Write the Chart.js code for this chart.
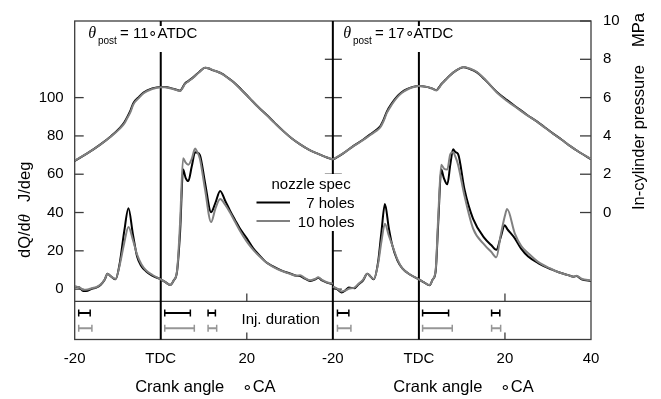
<!DOCTYPE html>
<html><head><meta charset="utf-8">
<script src="https://cdn.jsdelivr.net/npm/chart.js@4/dist/chart.umd.min.js"></script>
<style>html,body{margin:0;padding:0;background:#fff;overflow:hidden}</style>
</head><body>
<canvas id="c" width="661" height="399" style="display:block;width:661px;height:399px"></canvas>
<script>
// ---------- axis ticks ----------
const crankTicks = [-20, 0, 20, 40, 60, 80, 100];
const crankTickLabels = ['-20', 'TDC', '20', '-20', 'TDC', '20', '40'];
const hrrTicks = [0, 20, 40, 60, 80, 100];
const pressureTicks = [0, 2, 4, 6, 8, 10];
const panelOffsets = [0, 60];
const panelTitleValues = ['11', '17'];
const seriesNames = ['7 holes', '10 holes'];

// ---------- panel 1 (theta_post = 11 ATDC) : heat release rate ----------
const crank1 = [-20,-19,-18,-17,-16,-15,-14,-13,-12.4,-11.5,-10.5,-9.5,-8.5,-7.5,-6.5,-5.5,-4.5,-3.5,-2,0,1,2.2,3,3.8,4.5,5.2,5.8,6.4,7.2,8,8.4,9.1,10.3,11.7,12.7,13.8,15,16.1,17.3,18.4,20,21.5,23,24.5,26,28,30,31.5,32.4,33.5,34.7,36,36.6,37.5,38.6,40];
const hrr1_7  = [1.2,1.0,-1.0,-0.8,0.2,0.8,2.2,5,8,6.5,5.1,14,30,42.2,29,17,12,9.5,7,5.1,3.8,2.2,4.5,9.4,30,62.4,58,56.4,64,71.5,71.3,70,55.5,40.2,45,51.3,46,41,36,31.6,26.5,21.3,17.5,14,12,9.8,8.2,7,6.8,5.5,4.3,5.2,6,4.5,3.4,2.6];
const hrr1_10 = [1.3,1.0,-0.3,-0.2,0.5,1.0,2.4,5.2,8,6.5,5.3,13,24,32.5,26,18,13,10,7.5,5.1,3.8,2.2,4.5,9.8,35,68.4,66,65,68,73.4,72,68,52,35,42,47,44,40,35,30.5,24.8,20.5,17,14,11.8,9.6,8,7,7.2,5.8,4.6,5.5,6.2,4.8,3.6,2.8];

// ---------- panel 2 (theta_post = 17 ATDC) : heat release rate ----------
const crank2 = [-20,-19,-18,-17,-16.3,-15,-14,-13,-12,-11.2,-10.5,-9.5,-8.7,-7.9,-7,-6.2,-5,-3.9,-2,0,1.2,2.5,3.2,3.9,4.5,5.2,5.8,6.6,7.3,7.95,8.5,9.1,10.6,12.6,15.3,16.8,18,19,19.96,20.5,22.3,23.8,25.4,27.7,30.8,32.5,34.7,36,36.6,37.8,40];
const hrr2_7  = [1.2,0,-1.7,-0.5,0.8,0.5,2.6,4.5,8,6.5,5.1,14,30,44.4,32,23,15,11,7.5,5.1,3.5,2,5,9.4,35,62.4,58,54.7,65,73,71.5,70.6,52,36.7,26.5,23,20.5,27,33.3,31.5,26.5,21,17,13.6,10.3,8.8,7.3,6.5,6.8,5.1,4.3];
const hrr2_10 = [1.3,0.3,-1.2,-0.6,0.2,0.8,2.8,4.8,8,6.5,5.3,13,25,34.2,28,23,15.5,11,7.5,5.1,3.5,2.1,5,10,38,65,63,62.4,70.5,71.5,69,65,48.7,31.6,23,19.5,16.6,28,38,41.8,29,22.5,18.8,14.2,10.5,8.8,7.3,6.5,7.0,5.4,4.5];

// ---------- in-cylinder pressure (MPa) ----------
const pCrank1 = [-20,-17,-14,-11.5,-9.5,-8.5,-7.9,-7,-6.4,-5,-4,-2,0,1,2.2,3.5,4.5,5,5.6,6.5,7.6,9,10.3,11.2,12.2,13.2,14.2,15.5,16.9,18.8,20.7,22.6,24.6,26.5,28.5,30.4,32.4,34.3,36.2,38.1,40];
const p1_7  = [2.7,3.1,3.56,4.0,4.42,4.7,4.94,5.35,5.7,6.05,6.27,6.48,6.56,6.55,6.5,6.42,6.36,6.5,6.73,6.88,7.07,7.35,7.56,7.52,7.42,7.35,7.25,7.05,6.82,6.4,5.96,5.52,5.1,4.68,4.25,3.88,3.56,3.3,3.1,2.92,2.76];
const p1_10 = [2.71,3.1,3.55,3.98,4.38,4.64,4.88,5.27,5.63,6.0,6.23,6.45,6.54,6.54,6.49,6.41,6.35,6.47,6.7,6.86,7.05,7.34,7.56,7.53,7.43,7.35,7.24,7.04,6.8,6.38,5.95,5.51,5.09,4.67,4.24,3.88,3.56,3.3,3.1,2.92,2.77];

const pCrank2 = [-20,-17.5,-15.2,-13,-11.3,-10,-9,-8.2,-7.45,-6.3,-5.1,-4,-2.8,-1.4,0,1.8,3,4.1,4.7,5.3,6.2,7.2,8.7,10.3,11.8,13.4,15.5,18.1,20.4,22.7,25,27.4,29.3,31.2,33.2,35.1,37.5,40];
const p2_7  = [2.76,3.1,3.48,3.8,4.08,4.3,4.5,4.85,5.27,5.7,6.05,6.28,6.44,6.56,6.61,6.56,6.48,6.39,6.55,6.73,6.93,7.16,7.42,7.59,7.5,7.33,6.9,6.3,5.88,5.5,5.12,4.76,4.44,4.12,3.8,3.48,3.12,2.79];
const p2_10 = [2.77,3.1,3.47,3.78,4.05,4.25,4.44,4.78,5.2,5.64,6.0,6.24,6.41,6.54,6.6,6.56,6.48,6.38,6.52,6.71,6.92,7.15,7.42,7.6,7.52,7.35,6.92,6.27,5.84,5.47,5.1,4.75,4.43,4.11,3.8,3.48,3.12,2.8];

// ---------- injection duration [start, end] (deg CA) ----------
const inj1_7  = [[-19.07,-16.4],[0.93,6.88],[11.0,12.7]];
const inj1_10 = [[-19.07,-16.0],[0.93,7.8],[11.0,13.0]];
const inj2_7  = [[-18.93,-16.28],[0.86,6.9],[16.9,18.8]];
const inj2_10 = [[-18.93,-15.8],[0.86,7.75],[16.9,19.0]];

// ---------- styling ----------
const FONT = '"Liberation Sans", Arial, Helvetica, sans-serif';
const BLACK = '#000000';
const GRAY = 'rgb(128,128,128)';
const INJ_GRAY = 'rgb(150,150,150)';
const FRAME = '#3c3c3c';
const SEP_LEVEL = -6.4;       // separator between the two strips (J/deg units)
const INJ_LEVEL_7 = -12.5;
const INJ_LEVEL_10 = -20.4;
const Y_MIN = -26.3, Y_MAX = 140;

function pts(xs, ys, off) { return xs.map((x, i) => ({x: x + off, y: ys[i]})); }
function injPts(bars, off, level) {
  const out = [];
  bars.forEach(b => { out.push({x: b[0] + off, y: level}); out.push({x: b[1] + off, y: level}); out.push({x: b[1] + off + 0.01, y: null}); });
  return out;
}
function curve(data, color, axis, order) {
  return {data, borderColor: color, borderWidth: 2, pointRadius: 0, tension: 0.25, yAxisID: axis, order, fill: false, cubicInterpolationMode: 'monotone'};
}
function injSet(data, color) {
  return {data, borderColor: color, backgroundColor: color, borderWidth: 2, pointStyle: 'line', pointRotation: 90,
          pointRadius: 3.5, pointBorderWidth: 1.5, pointBorderColor: color, spanGaps: false, yAxisID: 'y', tension: 0, order: 5};
}

const datasets = [
  curve(pts(crank1, hrr1_7, panelOffsets[0]), BLACK, 'y', 2),
  curve(pts(crank1, hrr1_10, panelOffsets[0]), GRAY, 'y', 1),
  curve(pts(crank2, hrr2_7, panelOffsets[1]), BLACK, 'y', 2),
  curve(pts(crank2, hrr2_10, panelOffsets[1]), GRAY, 'y', 1),
  curve(pts(pCrank1, p1_7, panelOffsets[0]), BLACK, 'yP', 2),
  curve(pts(pCrank1, p1_10, panelOffsets[0]), GRAY, 'yP', 1),
  curve(pts(pCrank2, p2_7, panelOffsets[1]), BLACK, 'yP', 2),
  curve(pts(pCrank2, p2_10, panelOffsets[1]), GRAY, 'yP', 1),
  injSet(injPts(inj1_7, panelOffsets[0], INJ_LEVEL_7), BLACK),
  injSet(injPts(inj1_10, panelOffsets[0], INJ_LEVEL_10), INJ_GRAY),
  injSet(injPts(inj2_7, panelOffsets[1], INJ_LEVEL_7), BLACK),
  injSet(injPts(inj2_10, panelOffsets[1], INJ_LEVEL_10), INJ_GRAY)
];

function seg(ctx, x1, y1, x2, y2) { ctx.beginPath(); ctx.moveTo(x1, y1); ctx.lineTo(x2, y2); ctx.stroke(); }

const decor = {
  id: 'decor',
  beforeDatasetsDraw(chart) {
    const {ctx, chartArea: a, scales} = chart;
    const x = scales.x, y = scales.y, yP = scales.yP;
    ctx.save();
    ctx.strokeStyle = FRAME; ctx.lineWidth = 1.3;
    ctx.strokeRect(a.left, a.top, a.right - a.left, a.bottom - a.top);
    const ySep = y.getPixelForValue(SEP_LEVEL);
    seg(ctx, a.left, ySep, a.right, ySep);
    // left axis ticks (inward)
    hrrTicks.forEach(v => seg(ctx, a.left, y.getPixelForValue(v), a.left + 9, y.getPixelForValue(v)));
    // right axis ticks (inward)
    pressureTicks.forEach(v => seg(ctx, a.right - 11, yP.getPixelForValue(v), a.right, yP.getPixelForValue(v)));
    // divider ticks
    const xd = x.getPixelForValue(40);
    pressureTicks.filter(v => v > 0 && v < 10).forEach(v => seg(ctx, xd - 8, yP.getPixelForValue(v), xd + 9, yP.getPixelForValue(v)));
    hrrTicks.filter(v => v < 40).forEach(v => seg(ctx, xd, y.getPixelForValue(v), xd + 9, y.getPixelForValue(v)));
    // crank ticks at 20 deg on separator and bottom
    [20, 80].forEach(v => {
      const px = x.getPixelForValue(v);
      seg(ctx, px, ySep, px, ySep - 8);
      seg(ctx, px, a.bottom, px, a.bottom - 7);
    });
    // TDC lines and panel divider
    ctx.strokeStyle = '#000'; ctx.lineWidth = 2;
    [0, 60].forEach(v => {
      const px = x.getPixelForValue(v);
      seg(ctx, px, a.top, px, a.top + 5);
      seg(ctx, px, a.top + 31, px, a.bottom);
    });
    seg(ctx, xd, a.top, xd, a.bottom);
    ctx.restore();
  },
  afterDatasetsDraw(chart) {
    const {ctx, chartArea: a, scales} = chart;
    const x = scales.x;
    ctx.save();
    // legend box
    ctx.fillStyle = '#fff';
    ctx.fillRect(254, 174, 103, 57);
    ctx.fillStyle = '#000';
    ctx.font = '15px ' + FONT;
    ctx.textBaseline = 'alphabetic';
    ctx.textAlign = 'left';
    ctx.fillText('nozzle spec', 271.5, 189);
    ctx.textAlign = 'right';
    ctx.fillText(seriesNames[0], 354.5, 207.7);
    ctx.fillText(seriesNames[1], 354.5, 226.5);
    ctx.lineWidth = 2;
    ctx.strokeStyle = BLACK; seg(ctx, 256.5, 202.5, 290, 202.5);
    ctx.strokeStyle = GRAY; seg(ctx, 256.5, 221, 290, 221);
    // injection label
    ctx.fillStyle = '#000';
    ctx.textAlign = 'left';
    ctx.fillText('Inj. duration', 241.5, 323.5);
    // panel titles
    const titleX = [88.3, 343.3];
    titleX.forEach((tx, i) => {
      ctx.textAlign = 'left';
      ctx.font = 'italic 16px "Liberation Serif", "Times New Roman", serif';
      ctx.fillText('θ', tx, 38);
      ctx.font = '10px ' + FONT;
      ctx.fillText('post', tx + 9.7, 43.5);
      ctx.font = '15px ' + FONT;
      ctx.fillText('= ' + panelTitleValues[i] + '∘ATDC', tx + 31.7, 37.6);
    });
    ctx.restore();
  },
  afterDraw(chart) {
    const {ctx, scales} = chart;
    const x = scales.x;
    ctx.save();
    ctx.fillStyle = '#000';
    ctx.font = '16.5px ' + FONT;
    ctx.textBaseline = 'alphabetic';
    ctx.textAlign = 'left';
    panelOffsets.forEach(off => {
      const p0 = x.getPixelForValue(-20 + off);
      ctx.fillText('Crank angle', p0 + 60.5, 392);
      ctx.fillText('∘CA', p0 + 167, 392);
    });
    // left axis title (rotated)
    ctx.save();
    ctx.translate(29.5, 258);
    ctx.rotate(-Math.PI / 2);
    ctx.font = '16.5px ' + FONT;
    ctx.fillText('dQ/d', 0, 0);
    let w = ctx.measureText('dQ/d').width;
    ctx.font = 'italic 16.5px "Liberation Serif", "Times New Roman", serif';
    ctx.fillText('θ', w, 0);
    ctx.font = '16.5px ' + FONT;
    ctx.fillText('J/deg', 56, 0);
    ctx.restore();
    // right axis title (rotated)
    ctx.save();
    ctx.translate(644, 210);
    ctx.rotate(-Math.PI / 2);
    ctx.font = '16.5px ' + FONT;
    ctx.fillText('In-cylinder pressure', 0, 0);
    ctx.fillText('MPa', 163, 0);
    ctx.restore();
    ctx.restore();
  }
};

new Chart(document.getElementById('c'), {
  type: 'line',
  data: {datasets},
  options: {
    responsive: false,
    animation: false,
    devicePixelRatio: 1,
    parsing: true,
    layout: {padding: {top: 15, left: 0, right: 0, bottom: 0}},
    plugins: {legend: {display: false}, tooltip: {enabled: false}},
    scales: {
      x: {
        type: 'linear', position: 'bottom', min: -20, max: 100,
        afterBuildTicks: s => { s.ticks = crankTicks.map(v => ({value: v})); },
        afterFit: s => { s.height = 59.5; },
        ticks: {
          callback: v => crankTickLabels[crankTicks.indexOf(v)],
          font: {family: FONT, size: 15}, color: '#000', padding: 10.5, maxRotation: 0, autoSkip: false
        },
        grid: {display: false, drawTicks: false}, border: {display: false}
      },
      y: {
        type: 'linear', position: 'left', min: Y_MIN, max: Y_MAX,
        afterBuildTicks: s => { s.ticks = hrrTicks.map(v => ({value: v})); },
        afterFit: s => { s.width = 74.7; },
        ticks: {font: {family: FONT, size: 15}, color: '#000', padding: 11},
        grid: {display: false, drawTicks: false}, border: {display: false}
      },
      yP: {
        type: 'linear', position: 'right', min: (Y_MIN - 40) / 10, max: (Y_MAX - 40) / 10,
        afterBuildTicks: s => { s.ticks = pressureTicks.map(v => ({value: v})); },
        afterFit: s => { s.width = 70; },
        ticks: {font: {family: FONT, size: 15}, color: '#000', padding: 12},
        grid: {display: false, drawTicks: false}, border: {display: false}
      }
    }
  },
  plugins: [decor]
});
</script>
</body></html>
